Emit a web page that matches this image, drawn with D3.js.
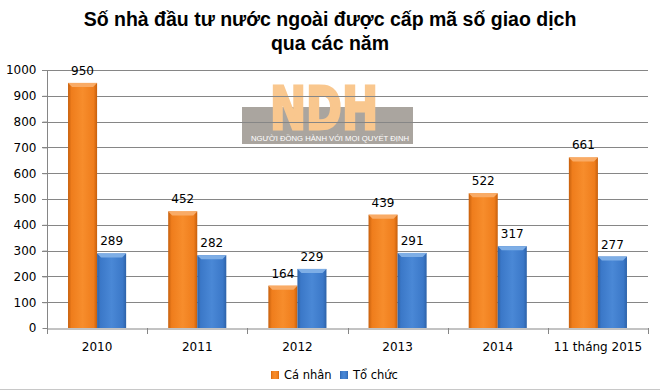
<!DOCTYPE html>
<html><head><meta charset="utf-8">
<script src="https://cdn.jsdelivr.net/npm/d3@7"></script>
<style>body{margin:0;background:#fff}svg{display:block}</style>
</head><body>
<svg id="c" width="660" height="390"></svg>
<script>
const categories = ["2010","2011","2012","2013","2014","11 tháng 2015"];
const caNhan = [950,452,164,439,522,661];
const toChuc = [289,282,229,291,317,277];
const seriesNames = ["Cá nhân","Tổ chức"];
const yTicks = [0,100,200,300,400,500,600,700,800,900,1000];

const svg = d3.select("#c");
const m={l:47,r:12,t:70,b:62};
const x = d3.scaleBand().domain(categories).range([m.l,648]).paddingInner(0.42).paddingOuter(0.21);
const x0 = d3.scaleBand().domain(categories).range([m.l,648]);
const y = d3.scaleLinear().domain([0,1000]).range([328,70]);
const xs = d3.scaleBand().domain([0,1]).range([0,x.bandwidth()]);

const defs = svg.append("defs");
function grad(id,dark,mid,light){
  const g=defs.append("linearGradient").attr("id",id).attr("x1","0").attr("x2","1").attr("y1","0").attr("y2","0");
  g.append("stop").attr("offset","0%").attr("stop-color",dark);
  g.append("stop").attr("offset","12%").attr("stop-color",mid);
  g.append("stop").attr("offset","50%").attr("stop-color",light);
  g.append("stop").attr("offset","88%").attr("stop-color",mid);
  g.append("stop").attr("offset","100%").attr("stop-color",dark);
}
grad("gO","#c65f0c","#ef7d1c","#f78d2c");
grad("gB","#2d62a8","#3b78c8","#4a88d6");
const colors=["url(#gO)","url(#gB)"];
const tops=["#f9ab66","#7eaee6"];

// title
svg.append("text").attr("x",330).attr("y",26).attr("text-anchor","middle")
  .style("font","bold 19.5px 'Liberation Sans', Arial, sans-serif").text("Số nhà đầu tư nước ngoài được cấp mã số giao dịch");
svg.append("text").attr("x",330).attr("y",50).attr("text-anchor","middle")
  .style("font","bold 19.5px 'Liberation Sans', Arial, sans-serif").text("qua các năm");

// watermark (logo)
const wm = svg.append("g");
wm.append("rect").attr("x",242).attr("y",107).attr("width",171).attr("height",37).attr("fill","#aaa59f");
wm.append("text").attr("x",270).attr("y",129)
  .attr("font-family","'DejaVu Sans', 'Liberation Sans', sans-serif").attr("font-weight","900").attr("font-size",58)
  .attr("fill","#f9c78e").attr("stroke","#f9c78e").attr("stroke-width",3).attr("stroke-linejoin","miter")
  .attr("textLength",108).attr("lengthAdjust","spacingAndGlyphs")
  .text("NDH");
wm.append("text").attr("x",251).attr("y",141)
  .style("font","7.5px 'Liberation Sans', Arial, sans-serif").attr("fill","#fff")
  .attr("textLength",158).attr("lengthAdjust","spacingAndGlyphs")
  .text("NGƯỜI ĐỒNG HÀNH VỚI MỌI QUYẾT ĐỊNH");

// gridlines
svg.append("g").selectAll("line").data(yTicks.filter(d=>d>0)).join("line")
  .attr("x1",42).attr("x2",648).attr("y1",d=>Math.round(y(d))+0.5).attr("y2",d=>Math.round(y(d))+0.5)
  .attr("stroke","#868686").attr("stroke-width",1);

// y axis
const ya = svg.append("g").attr("transform",`translate(${m.l+0.5},0)`)
  .call(d3.axisLeft(y).tickValues(yTicks).tickFormat(d3.format("d")).tickSize(5).tickPadding(6));
ya.select(".domain").attr("stroke","#868686").attr("d",`M0,${y(1000)}V${y(0)}`);
ya.selectAll("line").attr("stroke","#868686");
ya.selectAll("text").style("font","12px 'DejaVu Sans', Verdana, sans-serif").attr("fill","#000");

// bars
const data = categories.map((c,i)=>({c,v:[caNhan[i],toChuc[i]]}));
const g = svg.append("g");
data.forEach(d=>{
  d.v.forEach((v,j)=>{
    const bx = x(d.c)+xs(j), bw = xs.bandwidth(), by=y(v), bh=y(0)-y(v);
    g.append("rect").attr("x",bx).attr("y",by).attr("width",bw).attr("height",bh).attr("fill",colors[j]);
    g.append("path").attr("d",`M${bx},${by}L${bx+bw},${by}L${bx+bw-4},${by+4}L${bx+4},${by+4}Z`).attr("fill",tops[j]);
    g.append("text").attr("x",bx+bw/2).attr("y",by-8).attr("text-anchor","middle")
      .style("font","12px 'DejaVu Sans', Verdana, sans-serif").text(v);
  });
});

// x axis
const xa = svg.append("g").attr("transform",`translate(0,${328.5})`)
  .call(d3.axisBottom(x0).tickSize(0).tickPadding(14));
xa.select(".domain").attr("stroke","#868686");
xa.selectAll("text").style("font","12px 'DejaVu Sans', Verdana, sans-serif").attr("fill","#000");
svg.append("g").selectAll("line").data(d3.range(categories.length+1)).join("line")
  .attr("x1",i=>Math.round(m.l+i*x0.step())+0.5).attr("x2",i=>Math.round(m.l+i*x0.step())+0.5)
  .attr("y1",328).attr("y2",334).attr("stroke","#868686");

// legend
const lg = svg.append("g");
const lx=[271,340];
seriesNames.forEach((n,i)=>{
  lg.append("rect").attr("x",lx[i]).attr("y",371).attr("width",8).attr("height",8).attr("fill",colors[i]);
  lg.append("text").attr("x",lx[i]+13).attr("y",379).style("font","11.5px 'DejaVu Sans', Verdana, sans-serif").text(n);
});
svg.append("line").attr("x1",0).attr("x2",660).attr("y1",389.5).attr("y2",389.5).attr("stroke","#c8c8c8");
</script>
</body></html>
